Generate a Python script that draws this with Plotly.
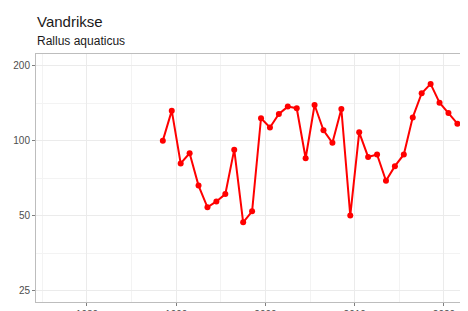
import plotly.graph_objects as go

# Season midpoints (e.g. 1988/89 plotted at 1988.5) and index values
years = [1988.5, 1989.5, 1990.5, 1991.5, 1992.5, 1993.5, 1994.5, 1995.5, 1996.5, 1997.5,
         1998.5, 1999.5, 2000.5, 2001.5, 2002.5, 2003.5, 2004.5, 2005.5, 2006.5, 2007.5,
         2008.5, 2009.5, 2010.5, 2011.5, 2012.5, 2013.5, 2014.5, 2015.5, 2016.5, 2017.5,
         2018.5, 2019.5, 2020.5, 2021.5]
values = [100, 132, 81, 89, 66, 54, 57, 61, 92, 47,
          52, 123, 113, 128, 137, 135, 85, 139, 110, 98,
          134, 50, 108, 86, 88, 69, 79, 88, 124, 155,
          169, 142, 129, 117]

x_ticks = [1980, 1990, 2000, 2010, 2020]
x_minor = [1975, 1985, 1995, 2005, 2015]
y_ticks = [25, 50, 100, 200]
y_minor = [35.36, 70.71, 141.42]

title = "Vandrikse"
subtitle = "Rallus aquaticus"

RED = "#ff0000"
FONT = "Liberation Sans, Arial, sans-serif"

fig = go.Figure()
fig.add_trace(go.Scatter(
    x=years, y=values, mode="lines+markers",
    line=dict(color=RED, width=2),
    marker=dict(color=RED, size=6),
    showlegend=False, hoverinfo="skip",
))

# page has an 8px body margin; figure occupies 8..468 x 8..311
W, H = 460, 303
ml, mr, mt, mb = 28, 0, 46, 9
ph = H - mt - mb
plot_bottom_page = 302

fig.update_layout(
    width=W, height=H,
    margin=dict(l=ml, r=mr, t=mt, b=mb, autoexpand=False),
    paper_bgcolor="white", plot_bgcolor="white",
    font=dict(family=FONT, color="#4d4d4d", size=10),
    annotations=[
        dict(text=title, x=-0.002, xanchor="left", xref="paper",
             y=(plot_bottom_page - 21.5) / ph, yref="paper", yanchor="middle",
             showarrow=False, font=dict(family=FONT, size=15, color="#1a1a1a")),
        dict(text=subtitle, x=-0.002, xanchor="left", xref="paper",
             y=(plot_bottom_page - 41) / ph, yref="paper", yanchor="middle",
             showarrow=False, font=dict(family=FONT, size=12, color="#1a1a1a")),
    ],
)

fig.update_xaxes(
    range=[1974.29, 2022.69],
    tickvals=x_ticks, ticktext=[str(v) for v in x_ticks],
    ticks="outside", ticklen=3, tickcolor="#7f7f7f", tickwidth=1,
    tickfont=dict(size=10, color="#4d4d4d"),
    showgrid=True, gridcolor="#ebebeb", gridwidth=1,
    minor=dict(tickvals=x_minor, showgrid=True, gridcolor="#f3f3f3", gridwidth=1, ticks=""),
    showline=True, linecolor="#bdbdbd", linewidth=1, mirror=True,
    zeroline=False, automargin=False,
)
fig.update_yaxes(
    type="log",
    range=[1.352, 2.348],
    tickvals=y_ticks, ticktext=[str(v) for v in y_ticks],
    ticks="outside", ticklen=3, tickcolor="#7f7f7f", tickwidth=1,
    tickfont=dict(size=10, color="#4d4d4d"),
    showgrid=True, gridcolor="#ebebeb", gridwidth=1,
    minor=dict(tickvals=y_minor, showgrid=True, gridcolor="#f3f3f3", gridwidth=1, ticks=""),
    showline=True, linecolor="#bdbdbd", linewidth=1, mirror=True,
    zeroline=False, automargin=False,
)

fig.write_html("out.html")
